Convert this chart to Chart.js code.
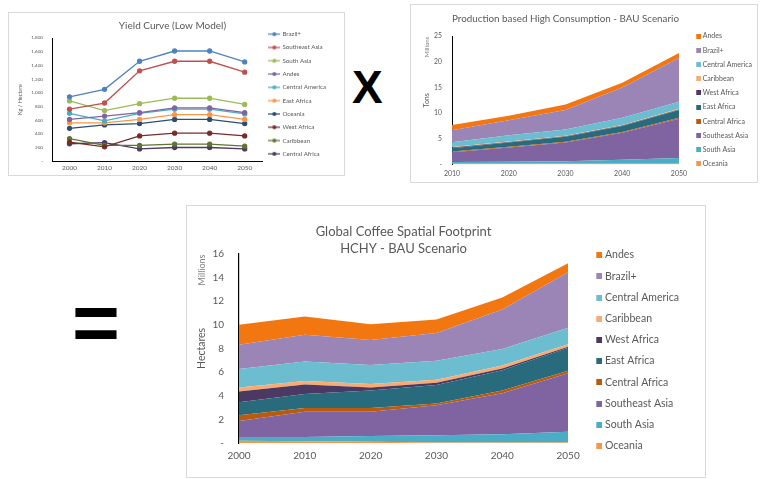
<!DOCTYPE html>
<html>
<head>
<meta charset="utf-8">
<script src="https://cdn.jsdelivr.net/npm/chart.js@4.4.1/dist/chart.umd.min.js"></script>
<style>
  body { margin: 0; width: 761px; height: 479px; background: #fff; position: relative; overflow: hidden; }
  .box { position: absolute; border: 1px solid #d9d9d9; background: #fff; box-sizing: border-box; }
  .box div { position: relative; width: 100%; height: 100%; }
  .sym { position: absolute; font-family: "Liberation Sans", Arial, sans-serif; font-weight: bold; color: #000; line-height: 1; }
</style>
</head>
<body>
<div class="box" style="left:8px;top:12px;width:337px;height:164px"><div><canvas id="chart-yield"></canvas></div></div>
<div class="box" style="left:410px;top:4px;width:348px;height:179px"><div><canvas id="chart-production"></canvas></div></div>
<div class="box" style="left:186px;top:205px;width:520px;height:273px"><div><canvas id="chart-footprint"></canvas></div></div>
<div class="sym" style="left:352px;top:64px;font-size:46px">X</div>
<div class="sym" style="left:72px;top:282px;font-size:82px">=</div>

<script>
//
// Data
//

// Yield curve (kg / hectare)
var yieldYears = ["2000", "2010", "2020", "2030", "2040", "2050"];
var yieldBrazil = [940, 1050, 1460, 1610, 1610, 1450];
var yieldSoutheastAsia = [760, 850, 1320, 1460, 1460, 1300];
var yieldSouthAsia = [880, 740, 840, 920, 920, 830];
var yieldAndes = [610, 660, 710, 780, 780, 710];
var yieldCentralAmerica = [700, 590, 700, 760, 760, 690];
var yieldEastAfrica = [560, 560, 610, 680, 680, 610];
var yieldOceania = [480, 530, 550, 610, 610, 550];
var yieldWestAfrica = [280, 210, 370, 410, 410, 370];
var yieldCaribbean = [330, 230, 230, 250, 250, 220];
var yieldCentralAfrica = [255, 270, 180, 200, 200, 180];

// Production (millions of tons)
var prodYears = ["2010", "2020", "2030", "2040", "2050"];
var prodOceania = [0.15, 0.15, 0.15, 0.15, 0.15];
var prodSouthAsia = [0.35, 0.4, 0.5, 0.8, 1.15];
var prodSoutheastAsia = [1.9, 2.75, 3.65, 5.25, 7.6];
var prodCentralAfrica = [0.15, 0.15, 0.15, 0.15, 0.2];
var prodEastAfrica = [0.65, 0.85, 0.95, 1.15, 1.5];
var prodWestAfrica = [0.1, 0.1, 0.1, 0.1, 0.1];
var prodCaribbean = [0.1, 0.1, 0.1, 0.1, 0.15];
var prodCentralAmerica = [0.95, 1.2, 1.2, 1.4, 1.35];
var prodBrazil = [2.35, 2.9, 3.8, 5.9, 8.5];
var prodAndes = [1.0, 0.9, 1.1, 0.9, 1.0];

// Spatial footprint (millions of hectares)
var areaYears = ["2000", "2010", "2020", "2030", "2040", "2050"];
var areaOceania = [0.2, 0.15, 0.1, 0.05, 0.05, 0.05];
var areaSouthAsia = [0.3, 0.35, 0.5, 0.6, 0.7, 0.9];
var areaSoutheastAsia = [1.35, 2.15, 2.05, 2.55, 3.45, 4.95];
var areaCentralAfrica = [0.5, 0.3, 0.3, 0.15, 0.25, 0.2];
var areaEastAfrica = [1.1, 1.2, 1.5, 1.55, 1.7, 1.95];
var areaWestAfrica = [0.9, 0.8, 0.25, 0.2, 0.15, 0.1];
var areaCaribbean = [0.35, 0.3, 0.3, 0.25, 0.25, 0.2];
var areaCentralAmerica = [1.55, 1.65, 1.6, 1.6, 1.4, 1.4];
var areaBrazil = [2.05, 2.25, 2.1, 2.35, 3.35, 4.7];
var areaAndes = [1.7, 1.55, 1.35, 1.15, 1.0, 0.75];

//
// Settings
//

Chart.defaults.font.family = "Lato, 'Noto Sans', sans-serif";
Chart.defaults.color = "#595959";
Chart.defaults.animation = false;

// Excel-like accounting ticks: 0 shows as "-"
function dashZero(v) {
  return v === 0 ? "-" : v.toLocaleString("en-US");
}

// Small rotated label for the "Millions" display unit
var unitLabel = {
  id: "unitLabel",
  afterDraw: function (chart, args, opts) {
    if (!opts.text) return;
    var ctx = chart.ctx;
    ctx.save();
    ctx.translate(opts.x, opts.y);
    ctx.rotate(-Math.PI / 2);
    ctx.font = opts.size + "px Lato, sans-serif";
    ctx.fillStyle = opts.color || "#7f7f7f";
    ctx.textAlign = "center";
    ctx.textBaseline = "middle";
    ctx.fillText(opts.text, 0, 0);
    ctx.restore();
  }
};

// Legend marker: line with a dot, like Excel's line legend
function lineMarker(color) {
  var c = document.createElement("canvas");
  c.width = 12;
  c.height = 6;
  var g = c.getContext("2d");
  g.strokeStyle = color;
  g.lineWidth = 1.2;
  g.beginPath();
  g.moveTo(0, 3);
  g.lineTo(12, 3);
  g.stroke();
  g.fillStyle = color;
  g.beginPath();
  g.arc(6, 3, 2, 0, Math.PI * 2);
  g.fill();
  return c;
}

// Legend marker: square pushed to the right end, leaves a gap after the plot
function squareMarker(color, width, size) {
  var c = document.createElement("canvas");
  c.width = width;
  c.height = size;
  var g = c.getContext("2d");
  g.fillStyle = color;
  g.fillRect(width - size, 0, size, size);
  return c;
}

function squareLabels(width, size) {
  return function (chart) {
    var items = Chart.defaults.plugins.legend.labels.generateLabels(chart);
    items.forEach(function (it) { it.pointStyle = squareMarker(it.fillStyle, width, size); });
    return items;
  };
}

var colors = {
  andes: "#f27711",
  brazil: "#9b84b6",
  centralAmerica: "#6dbdd1",
  caribbean: "#f8ab72",
  westAfrica: "#4c3963",
  eastAfrica: "#276b7c",
  centralAfrica: "#b95b0a",
  southeastAsia: "#8064a2",
  southAsia: "#4bacc6",
  oceania: "#f79646"
};

//
// Yield curve
//

function yieldLine(label, data, color) {
  return {
    label: label,
    data: data,
    borderColor: color,
    backgroundColor: color,
    borderWidth: 1.3,
    pointRadius: 2,
    pointHoverRadius: 2,
    tension: 0
  };
}

new Chart(document.getElementById("chart-yield"), {
  type: "line",
  data: {
    labels: yieldYears,
    datasets: [
      yieldLine("Brazil+", yieldBrazil, "#4f81bd"),
      yieldLine("Southeast Asia", yieldSoutheastAsia, "#c0504d"),
      yieldLine("South Asia", yieldSouthAsia, "#9bbb59"),
      yieldLine("Andes", yieldAndes, "#8064a2"),
      yieldLine("Central America", yieldCentralAmerica, "#4bacc6"),
      yieldLine("East Africa", yieldEastAfrica, "#f79646"),
      yieldLine("Oceania", yieldOceania, "#2c4d75"),
      yieldLine("West Africa", yieldWestAfrica, "#772c2a"),
      yieldLine("Caribbean", yieldCaribbean, "#5f7530"),
      yieldLine("Central Africa", yieldCentralAfrica, "#4d3b62")
    ]
  },
  options: {
    responsive: true,
    maintainAspectRatio: false,
    layout: { padding: { left: 0, right: 8, top: 0, bottom: 0 } },
    plugins: {
      title: {
        display: true,
        text: "Yield Curve (Low Model)",
        font: { size: 10, weight: "normal" },
        padding: { top: 7, bottom: 6 }
      },
      legend: {
        position: "right",
        labels: {
          usePointStyle: true,
          pointStyleWidth: 10,
          font: { size: 6.2 },
          padding: 7.1,
          generateLabels: function (chart) {
            var items = Chart.defaults.plugins.legend.labels.generateLabels(chart);
            items.forEach(function (it) { it.pointStyle = lineMarker(it.strokeStyle); });
            return items;
          }
        }
      },
      tooltip: { enabled: false }
    },
    scales: {
      x: {
        offset: true,
        grid: { display: false, drawTicks: false },
        border: { color: "#000", width: 1 },
        ticks: { font: { size: 6.5 }, padding: 3 }
      },
      y: {
        min: 0,
        max: 1800,
        grid: { display: false, drawTicks: false },
        border: { color: "#000", width: 1 },
        ticks: { stepSize: 200, font: { size: 4.6 }, padding: 9, callback: dashZero },
        title: { display: true, text: "Kg / Hectare", font: { size: 5.5 }, padding: { top: 8, bottom: 0 } },
        afterFit: function (scale) { scale.width = 43; }
      }
    }
  }
});

//
// Stacked areas
//

function areaSets(list) {
  return list.map(function (d, i) {
    return {
      label: d[0],
      data: d[1],
      backgroundColor: d[2],
      borderColor: d[2],
      borderWidth: 0,
      pointRadius: 0,
      fill: i === 0 ? "origin" : "-1",
      tension: 0
    };
  });
}

new Chart(document.getElementById("chart-production"), {
  type: "line",
  data: {
    labels: prodYears,
    datasets: areaSets([
      ["Oceania", prodOceania, colors.oceania],
      ["South Asia", prodSouthAsia, colors.southAsia],
      ["Southeast Asia", prodSoutheastAsia, colors.southeastAsia],
      ["Central Africa", prodCentralAfrica, colors.centralAfrica],
      ["East Africa", prodEastAfrica, colors.eastAfrica],
      ["West Africa", prodWestAfrica, colors.westAfrica],
      ["Caribbean", prodCaribbean, colors.caribbean],
      ["Central America", prodCentralAmerica, colors.centralAmerica],
      ["Brazil+", prodBrazil, colors.brazil],
      ["Andes", prodAndes, colors.andes]
    ])
  },
  options: {
    responsive: true,
    maintainAspectRatio: false,
    layout: { padding: { left: 0, right: -5, top: 12, bottom: -1 } },
    plugins: {
      title: {
        display: true,
        fullSize: false,
        text: "Production based High Consumption - BAU Scenario",
        font: { size: 10, weight: "normal" },
        padding: { top: -4, bottom: 11 }
      },
      legend: {
        position: "right",
        reverse: true,
        labels: {
          usePointStyle: true,
          pointStyleWidth: 13,
          font: { size: 7 },
          padding: 7.2,
          generateLabels: squareLabels(17, 5)
        }
      },
      tooltip: { enabled: false },
      unitLabel: { text: "Millions", x: 16, y: 42, size: 6 }
    },
    scales: {
      x: {
        grid: { display: false, drawTicks: false },
        border: { display: false },
        ticks: { font: { size: 7 }, padding: 5 }
      },
      y: {
        stacked: true,
        min: 0,
        max: 25,
        grid: { display: false, drawTicks: false },
        border: { color: "#000", width: 1 },
        ticks: { stepSize: 5, font: { size: 6.8 }, padding: 10, callback: dashZero },
        title: { display: true, text: "Tons", font: { size: 7 }, padding: { top: 12, bottom: 0 } },
        afterFit: function (scale) { scale.width = 41; }
      }
    }
  },
  plugins: [unitLabel]
});

new Chart(document.getElementById("chart-footprint"), {
  type: "line",
  data: {
    labels: areaYears,
    datasets: areaSets([
      ["Oceania", areaOceania, colors.oceania],
      ["South Asia", areaSouthAsia, colors.southAsia],
      ["Southeast Asia", areaSoutheastAsia, colors.southeastAsia],
      ["Central Africa", areaCentralAfrica, colors.centralAfrica],
      ["East Africa", areaEastAfrica, colors.eastAfrica],
      ["West Africa", areaWestAfrica, colors.westAfrica],
      ["Caribbean", areaCaribbean, colors.caribbean],
      ["Central America", areaCentralAmerica, colors.centralAmerica],
      ["Brazil+", areaBrazil, colors.brazil],
      ["Andes", areaAndes, colors.andes]
    ])
  },
  options: {
    responsive: true,
    maintainAspectRatio: false,
    layout: { padding: { left: 0, right: 16, top: 26, bottom: 8 } },
    plugins: {
      title: {
        display: true,
        fullSize: false,
        text: ["Global Coffee Spatial Footprint", "HCHY - BAU Scenario"],
        font: { size: 13, weight: "normal", lineHeight: 1.3 },
        padding: { top: -9, bottom: -3 }
      },
      legend: {
        position: "right",
        reverse: true,
        labels: {
          usePointStyle: true,
          pointStyleWidth: 21,
          font: { size: 10.5 },
          padding: 10.7,
          generateLabels: squareLabels(26, 6)
        }
      },
      tooltip: { enabled: false },
      unitLabel: { text: "Millions", x: 15, y: 64, size: 9 }
    },
    scales: {
      x: {
        grid: { display: false, drawTicks: false },
        border: { display: false },
        ticks: { font: { size: 10 }, padding: 7 }
      },
      y: {
        stacked: true,
        min: 0,
        max: 16,
        grid: { display: false, drawTicks: false },
        border: { color: "#000", width: 1.2 },
        ticks: { stepSize: 2, font: { size: 10 }, padding: 15, callback: dashZero },
        title: { display: true, text: "Hectares", font: { size: 10.5 }, padding: { top: 8, bottom: 0 } },
        afterFit: function (scale) { scale.width = 52; }
      }
    }
  },
  plugins: [unitLabel]
});
</script>
</body>
</html>
